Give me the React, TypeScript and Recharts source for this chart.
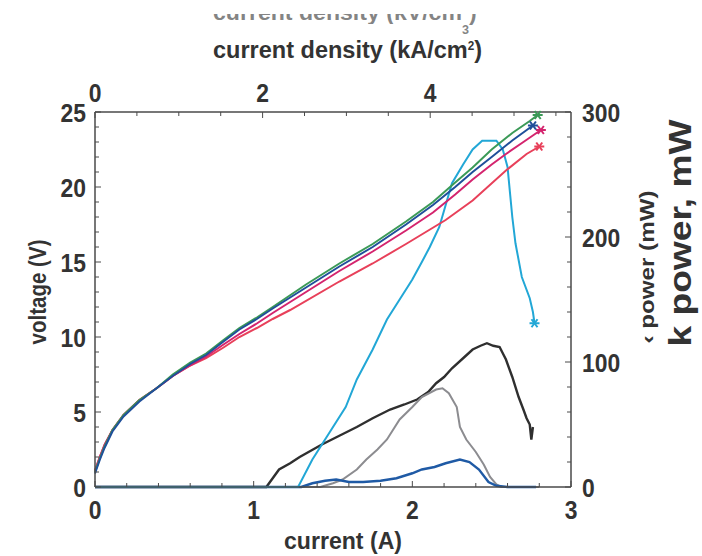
import React from "react";
import { LineChart, Line, XAxis, YAxis } from "recharts";

// ---- voltage curves (current in A, voltage in V) ----
const greenI = [0, 0.01, 0.03, 0.06, 0.11, 0.18, 0.28, 0.39, 0.49, 0.6, 0.7, 0.81, 0.91, 1.02, 1.12, 1.33, 1.54, 1.75, 1.96, 2.13, 2.27, 2.38, 2.5, 2.63, 2.74, 2.79];
const greenV = [1.0, 1.3, 1.9, 2.7, 3.8, 4.8, 5.8, 6.6, 7.5, 8.3, 8.9, 9.8, 10.6, 11.3, 12.0, 13.5, 14.9, 16.2, 17.7, 19.0, 20.3, 21.3, 22.5, 23.6, 24.4, 24.8];

const navyI = [0, 0.01, 0.03, 0.06, 0.11, 0.18, 0.28, 0.39, 0.49, 0.6, 0.7, 0.81, 0.91, 1.02, 1.12, 1.33, 1.54, 1.75, 1.96, 2.13, 2.27, 2.38, 2.5, 2.63, 2.76];
const navyV = [0.9, 1.2, 1.8, 2.6, 3.7, 4.7, 5.7, 6.6, 7.4, 8.2, 8.8, 9.7, 10.5, 11.2, 11.9, 13.3, 14.7, 16.0, 17.5, 18.8, 20.0, 21.0, 22.0, 23.1, 24.1];

const magentaI = [0, 0.01, 0.03, 0.06, 0.11, 0.18, 0.28, 0.39, 0.49, 0.6, 0.7, 0.81, 0.91, 1.02, 1.12, 1.33, 1.54, 1.75, 1.96, 2.13, 2.27, 2.38, 2.5, 2.59, 2.7, 2.81];
const magentaV = [1.1, 1.4, 2.0, 2.8, 3.8, 4.8, 5.8, 6.6, 7.4, 8.1, 8.7, 9.5, 10.2, 10.9, 11.6, 13.0, 14.4, 15.7, 17.1, 18.3, 19.5, 20.5, 21.5, 22.2, 23.0, 23.8];

const redI = [0, 0.01, 0.03, 0.06, 0.11, 0.18, 0.28, 0.39, 0.49, 0.6, 0.7, 0.81, 0.91, 1.02, 1.12, 1.23, 1.54, 1.75, 1.96, 2.21, 2.38, 2.59, 2.72, 2.8];
const redV = [1.1, 1.4, 2.0, 2.8, 3.8, 4.8, 5.8, 6.6, 7.4, 8.1, 8.6, 9.3, 10.0, 10.6, 11.2, 11.8, 13.7, 14.9, 16.2, 17.8, 19.1, 21.1, 22.2, 22.7];

// ---- power curves (current in A, power in mW) ----
const cyanI = [0, 1.28, 1.37, 1.46, 1.58, 1.65, 1.75, 1.84, 1.92, 2.0, 2.06, 2.11, 2.17, 2.25, 2.32, 2.38, 2.44, 2.53, 2.57, 2.6, 2.63, 2.65, 2.69, 2.74, 2.76, 2.77];
const cyanP = [0, 0, 22, 40, 64, 86, 110, 134, 150, 166, 180, 192, 208, 243, 258, 270, 277, 277, 270, 256, 216, 195, 168, 151, 140, 131];

const blackI = [0, 1.08, 1.16, 1.23, 1.29, 1.36, 1.43, 1.54, 1.65, 1.75, 1.86, 1.95, 2.03, 2.1, 2.15, 2.2, 2.25, 2.32, 2.38, 2.43, 2.47, 2.51, 2.55, 2.59, 2.63, 2.67, 2.7, 2.72, 2.74, 2.75, 2.76];
const blackP = [0, 0, 14, 19, 24, 29, 34, 41, 48, 55, 62, 66, 70, 76, 83, 88, 95, 103, 110, 113, 115, 113, 112, 102, 88, 72, 62, 55, 50, 38, 48];

const greyI = [0, 1.42, 1.5, 1.56, 1.65, 1.71, 1.78, 1.84, 1.92, 2.0, 2.06, 2.15, 2.19, 2.23, 2.28, 2.3, 2.34, 2.4, 2.45, 2.49, 2.53, 2.56, 2.8];
const greyP = [0, 0, 3, 6, 14, 22, 30, 38, 54, 64, 72, 78, 79, 75, 64, 48, 38, 28, 18, 8, 2, 0, 0];

const blueI = [0, 1.3, 1.37, 1.45, 1.52, 1.6, 1.69, 1.8, 1.9, 2.0, 2.06, 2.14, 2.21, 2.3, 2.36, 2.42, 2.48, 2.53, 2.6, 2.78];
const blueP = [0, 0, 3, 5, 6, 4, 4, 5, 7, 11, 14, 16, 19, 22, 20, 14, 4, 1, 0, 0];

// ---- axis ticks ----
const currentTicks = [0, 0.2, 0.4, 0.6, 0.8, 1, 1.2, 1.4, 1.6, 1.8, 2, 2.2, 2.4, 2.6, 2.8, 3];
const densityMax = 5.68; // kA/cm2 at 3 A
const densityTicks = [0, 0.5, 1, 1.5, 2, 2.5, 3, 3.5, 4, 4.5, 5, 5.5];
const voltageTicks = [0, 1, 2, 3, 4, 5, 6, 7, 8, 9, 10, 11, 12, 13, 14, 15, 16, 17, 18, 19, 20, 21, 22, 23, 24, 25];
const powerTicks = [0, 20, 40, 60, 80, 100, 120, 140, 160, 180, 200, 220, 240, 260, 280, 300];

const zip = (xs: number[], ys: number[]) => xs.map((x, k) => ({ i: x, y: ys[k] }));

const font = "'Liberation Sans', Arial, sans-serif";
const ink = "#333";
const axisInk = "#4a4a4a";

type Side = "bottom" | "top" | "left" | "right";

function makeTick(side: Side, isMajor: (v: number) => boolean) {
  return (props: any) => {
    const { x, y, payload } = props;
    const v: number = payload.value;
    const major = isMajor(v);
    const len = major ? 6 : 4;
    let x2 = x, y2 = y, lx = x, ly = y, anchor = "middle";
    if (side === "bottom") { y2 = y - len; ly = y + 32; }
    if (side === "top") { y2 = y + len; ly = y - 10; }
    if (side === "left") { x2 = x + len; lx = x - 9; ly = y + 9.5; anchor = "end"; }
    if (side === "right") { x2 = x - len; lx = x + 11; ly = y + 9.5; anchor = "start"; }
    return (
      <g>
        <line x1={x} y1={y} x2={x2} y2={y2} stroke={axisInk} strokeWidth={1} />
        {major && (
          <text
            transform={`translate(${lx},${ly}) scale(0.88,1)`}
            textAnchor={anchor}
            fontFamily={font}
            fontWeight={700}
            fontSize={26}
            fill={ink}
          >
            {v}
          </text>
        )}
      </g>
    );
  };
}

const isInt = (v: number) => Math.abs(v - Math.round(v)) < 1e-6;

function endMark(color: string, last: number) {
  return (props: any) => {
    const { cx, cy, index } = props;
    if (index !== last) return <g key={index} />;
    return (
      <g key={index} stroke={color} strokeWidth={2}>
        <line x1={cx - 5} y1={cy} x2={cx + 5} y2={cy} />
        <line x1={cx - 3} y1={cy - 4} x2={cx + 3} y2={cy + 4} />
        <line x1={cx - 3} y1={cy + 4} x2={cx + 3} y2={cy - 4} />
      </g>
    );
  };
}

const powerSeries = [
  { name: "black", I: blackI, v: blackP, color: "#2f2f2f", w: 2.4 },
  { name: "grey", I: greyI, v: greyP, color: "#8c8c90", w: 2 },
  { name: "blue", I: blueI, v: blueP, color: "#1f5aa5", w: 2.4 },
  { name: "cyan", I: cyanI, v: cyanP, color: "#22a7d6", w: 2 },
];

const voltageSeries = [
  { name: "red", I: redI, v: redV, color: "#e8405a", w: 2 },
  { name: "magenta", I: magentaI, v: magentaV, color: "#d4246e", w: 2 },
  { name: "green", I: greenI, v: greenV, color: "#3b9a57", w: 2 },
  { name: "navy", I: navyI, v: navyV, color: "#1f4f9a", w: 2 },
];

export default function App() {
  return (
    <div style={{ position: "absolute", left: 0, top: 0, width: 702, height: 556, background: "#fff" }}>
      <LineChart width={702} height={556} margin={{ top: 111, right: 130, bottom: 68, left: 94 }}>
        <XAxis
          xAxisId="b"
          dataKey="i"
          type="number"
          domain={[0, 3]}
          ticks={currentTicks}
          interval={0}
          height={1}
          tickSize={0}
          tickMargin={0}
          tickLine={false}
          stroke={axisInk}
          strokeWidth={1.5}
          tick={makeTick("bottom", isInt)}
        />
        <XAxis
          xAxisId="t"
          dataKey="i"
          orientation="top"
          type="number"
          domain={[0, densityMax]}
          allowDataOverflow
          ticks={densityTicks}
          interval={0}
          height={1}
          tickSize={0}
          tickMargin={0}
          tickLine={false}
          stroke={axisInk}
          strokeWidth={1.5}
          tick={makeTick("top", (v) => isInt(v) && Math.round(v) % 2 === 0)}
        />
        <YAxis
          yAxisId="v"
          type="number"
          domain={[0, 25]}
          ticks={voltageTicks}
          interval={0}
          width={1}
          tickSize={0}
          tickMargin={0}
          tickLine={false}
          stroke={axisInk}
          strokeWidth={1.5}
          tick={makeTick("left", (v) => v % 5 === 0)}
        />
        <YAxis
          yAxisId="p"
          orientation="right"
          type="number"
          domain={[0, 300]}
          ticks={powerTicks}
          interval={0}
          width={1}
          tickSize={0}
          tickMargin={0}
          tickLine={false}
          stroke={axisInk}
          strokeWidth={1.5}
          tick={makeTick("right", (v) => v % 100 === 0)}
        />
        {/* invisible carrier so the current-density axis is drawn */}
        <Line
          xAxisId="t"
          yAxisId="v"
          data={[{ i: 0, y: 0 }, { i: densityMax, y: 0 }]}
          dataKey="y"
          stroke="none"
          dot={false}
          activeDot={false}
          isAnimationActive={false}
        />
        {powerSeries.map((s) => (
          <Line
            key={s.name}
            xAxisId="b"
            yAxisId="p"
            data={zip(s.I, s.v)}
            dataKey="y"
            type="linear"
            stroke={s.color}
            strokeWidth={s.w}
            dot={s.name === "cyan" ? endMark(s.color, s.I.length - 1) : false}
            activeDot={false}
            isAnimationActive={false}
          />
        ))}
        {voltageSeries.map((s) => (
          <Line
            key={s.name}
            xAxisId="b"
            yAxisId="v"
            data={zip(s.I, s.v)}
            dataKey="y"
            type="linear"
            stroke={s.color}
            strokeWidth={s.w}
            dot={endMark(s.color, s.I.length - 1)}
            activeDot={false}
            isAnimationActive={false}
          />
        ))}
      </LineChart>
      <svg
        width={702}
        height={556}
        style={{ position: "absolute", left: 0, top: 0, pointerEvents: "none" }}
        fontFamily={font}
        fontWeight={700}
        fill={ink}
      >
        <defs>
          <clipPath id="ghost">
            <rect x={0} y={14} width={702} height={10} />
            <rect x={440} y={24} width={50} height={14} />
          </clipPath>
        </defs>
        {/* half-cut duplicate title at the very top */}
        <g clipPath="url(#ghost)" opacity={0.6}>
          <text transform="translate(213,20) scale(1.05,1)" fontSize={22}>
            current density (kV/cm
            <tspan fontSize={12} dy={14}>3</tspan>
            <tspan dy={-14}>)</tspan>
          </text>
        </g>
        <text transform="translate(213,58) scale(0.98,1)" fontSize={24}>
          current density (kA/cm
          <tspan fontSize={12} dy={-8}>2</tspan>
          <tspan dy={8}>)</tspan>
        </text>
        <text x={284} y={549} fontSize={24} textLength={118} lengthAdjust="spacingAndGlyphs">
          current (A)
        </text>
        <text
          transform="translate(46,292) rotate(-90)"
          textAnchor="middle"
          fontSize={24}
          textLength={105}
          lengthAdjust="spacingAndGlyphs"
        >
          voltage (V)
        </text>
        <text
          transform="translate(654,267) rotate(-90)"
          textAnchor="middle"
          fontSize={20}
          textLength={153}
          lengthAdjust="spacingAndGlyphs"
        >
          ‹ power (mW)
        </text>
        <text
          transform="translate(691,233) rotate(-90)"
          textAnchor="middle"
          fontSize={32}
          textLength={227}
          lengthAdjust="spacingAndGlyphs"
        >
          k power, mW
        </text>
      </svg>
    </div>
  );
}
